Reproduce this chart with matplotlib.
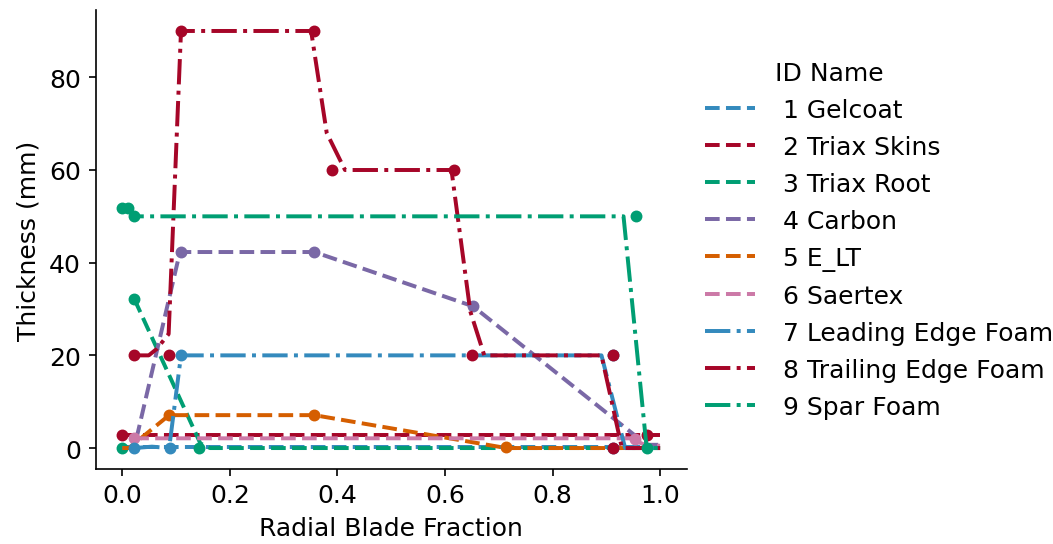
import matplotlib
matplotlib.use('Agg')
import matplotlib.pyplot as plt

# Materials
ids = [1, 2, 3, 4, 5, 6, 7, 8, 9]
names = ['Gelcoat', 'Triax Skins', 'Triax Root', 'Carbon', 'E_LT', 'Saertex',
         'Leading Edge Foam', 'Trailing Edge Foam', 'Spar Foam']
colors = ['#348ABD', '#A60628', '#009E73', '#7A68A6', '#D55E00', '#CC79A7',
          '#348ABD', '#A60628', '#009E73']
styles = ['--', '--', '--', '--', '--', '--', '-.', '-.', '-.']

# Thickness distribution (lines)
gelcoat_x = [0.0, 1.0]
gelcoat_y = [0.3, 0.3]
triax_skins_x = [0.0, 1.0]
triax_skins_y = [2.8, 2.8]
triax_root_x = [0.022, 0.145, 0.163, 1.0]
triax_root_y = [32.2, 1.0, 0.0, 0.0]
carbon_x = [0.0, 0.022, 0.107, 0.357, 0.652, 0.975, 1.0]
carbon_y = [0.0, 0.0, 42.3, 42.3, 30.6, 0.7, 0.7]
elt_x = [0.0, 0.012, 0.087, 0.357, 0.714, 1.0]
elt_y = [0.0, 0.0, 7.1, 7.1, 0.0, 0.0]
saertex_x = [0.022, 0.945, 0.975, 1.0]
saertex_y = [2.1, 2.1, 0.5, 0.5]
le_foam_x = [0.022, 0.055, 0.087, 0.109, 0.891, 0.935, 1.0]
le_foam_y = [0.0, 0.3, 0.0, 20.0, 20.0, 0.0, 0.0]
te_foam_x = [0.022, 0.049, 0.064, 0.086, 0.109, 0.351, 0.380, 0.414,
             0.612, 0.647, 0.673, 0.891, 0.929, 1.0]
te_foam_y = [20.0, 20.0, 21.4, 24.6, 90.0, 90.0, 68.0, 60.0,
             60.0, 29.5, 20.0, 20.0, 0.0, 0.0]
spar_foam_x = [0.0, 0.011, 0.022, 0.932, 0.975, 1.0]
spar_foam_y = [51.7, 51.7, 50.0, 50.0, 0.0, 0.0]

# Key points (markers)
gelcoat_mx = []
gelcoat_my = []
triax_skins_mx = [0.0, 0.975]
triax_skins_my = [2.8, 2.8]
triax_root_mx = [0.0, 0.022, 0.143]
triax_root_my = [0.0, 32.2, 0.0]
carbon_mx = [0.109, 0.357, 0.652]
carbon_my = [42.3, 42.3, 30.6]
elt_mx = [0.087, 0.357, 0.714]
elt_my = [7.1, 7.1, 0.2]
saertex_mx = [0.022, 0.953]
saertex_my = [2.2, 2.0]
le_foam_mx = [0.022, 0.089, 0.109, 0.912, 0.912]
le_foam_my = [0.0, 0.0, 20.0, 20.0, 0.0]
te_foam_mx = [0.022, 0.087, 0.109, 0.357, 0.390, 0.617, 0.650, 0.912, 0.912]
te_foam_my = [20.0, 20.0, 90.0, 90.0, 60.0, 60.0, 20.0, 20.0, 0.0]
spar_foam_mx = [0.0, 0.011, 0.022, 0.955, 0.975]
spar_foam_my = [51.7, 51.7, 50.0, 50.0, 0.0]

lines = [(gelcoat_x, gelcoat_y), (triax_skins_x, triax_skins_y),
         (triax_root_x, triax_root_y), (carbon_x, carbon_y), (elt_x, elt_y),
         (saertex_x, saertex_y), (le_foam_x, le_foam_y),
         (te_foam_x, te_foam_y), (spar_foam_x, spar_foam_y)]
points = [(gelcoat_mx, gelcoat_my), (triax_skins_mx, triax_skins_my),
          (triax_root_mx, triax_root_my), (carbon_mx, carbon_my),
          (elt_mx, elt_my), (saertex_mx, saertex_my),
          (le_foam_mx, le_foam_my), (te_foam_mx, te_foam_my),
          (spar_foam_mx, spar_foam_my)]

plt.rcParams['font.size'] = 12

fig = plt.figure(figsize=(7.02, 3.6333), dpi=150)
ax = fig.add_axes([0.0907, 0.1378, 0.5617, 0.8418])

# header row for the legend
ax.plot([], [], ' ', label='ID Name')

for i in range(len(ids)):
    lx, ly = lines[i]
    mx, my = points[i]
    ax.plot(lx, ly, linestyle=styles[i], color=colors[i], lw=1.9,
            label='%2d %s' % (ids[i], names[i]))
    ax.plot(mx, my, 'o', color=colors[i], ms=4.7)

ax.set_xlim(-0.05, 1.05)
ax.set_ylim(-4.5, 94.5)
ax.set_xticks([0.0, 0.2, 0.4, 0.6, 0.8, 1.0])
ax.set_yticks([0, 20, 40, 60, 80])
ax.set_xlabel('Radial Blade Fraction')
ax.set_ylabel('Thickness (mm)')
ax.spines['top'].set_visible(False)
ax.spines['right'].set_visible(False)

ax.legend(loc='center left', bbox_to_anchor=(0.993, 0.5), frameon=False,
          labelspacing=0.52)

fig.savefig('out.png', dpi=150)
